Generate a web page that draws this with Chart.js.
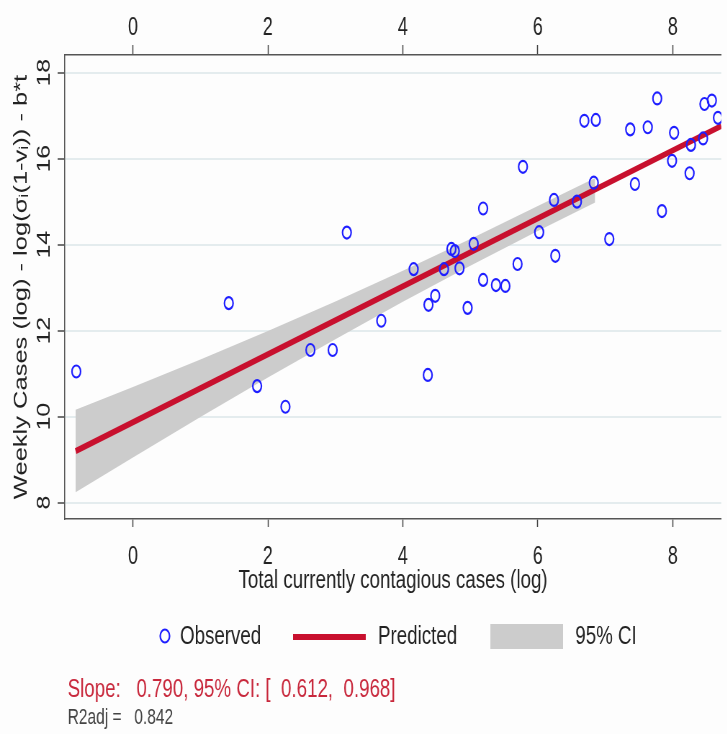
<!DOCTYPE html>
<html>
<head>
<meta charset="utf-8">
<script src="https://cdn.jsdelivr.net/npm/chart.js@4.4.1/dist/chart.umd.min.js"></script>
<style>
html, body { margin: 0; padding: 0; background: #fdfdfd; overflow: hidden; }
/* the original picture is squeezed sideways, so the chart is drawn wide and scaled */
#wrap { width: 1010px; height: 734px; transform: scaleX(0.72); transform-origin: 0 0; }
</style>
</head>
<body>
<div id="wrap"><canvas id="RegChart" width="1010" height="734"></canvas></div>
<script>
// observed points
let xObs = [-0.84, 1.42, 1.84, 2.26, 2.63, 2.96, 3.17, 3.68, 4.37, 4.16, 4.38, 4.48, 4.61, 4.72, 4.77,
  4.84, 4.96, 5.05, 5.19, 5.19, 5.38, 5.52, 5.70, 5.78, 6.02, 6.24, 6.26, 6.58, 6.83, 7.06,
  6.69, 6.86, 7.37, 7.77, 7.63, 7.44, 7.84, 8.02, 7.99, 8.25, 8.27, 8.45, 8.47, 8.58, 8.67]
let yObs = [11.05, 12.64, 10.71, 10.23, 11.55, 11.55, 14.28, 12.23, 10.97, 13.43, 12.60, 12.81, 13.43, 13.90, 13.85,
  13.45, 12.53, 14.02, 14.84, 13.18, 13.06, 13.04, 13.55, 15.81, 14.29, 15.04, 13.74, 15.00, 15.44, 14.13,
  16.88, 16.90, 16.68, 17.40, 16.73, 15.41, 14.78, 16.60, 15.95, 15.66, 16.32, 16.47, 17.27, 17.35, 16.95]

// fitted line
let xPred = [-0.85, 8.72]
let yPred = [9.20, 16.76]

// 95% confidence band
let xCI = [-0.85, 0, 1, 2, 3, 4, 5, 6, 6.85]
let ciLow = [8.24, 9.05, 9.99, 10.91, 11.80, 12.67, 13.51, 14.32, 14.98]
let ciHigh = [10.16, 10.69, 11.33, 11.99, 12.68, 13.39, 14.13, 14.90, 15.55]

let slope = "0.790"
let slopeCI = ["0.612", "0.968"]
let r2adj = "0.842"

let xTitle = "Total currently contagious cases (log)"
let yTitle = "Weekly Cases (log) - log(σᵢ(1-vᵢ)) - b*t"

const FONT = "'Liberation Sans', Arial, sans-serif"
const BLUE = "#1e1eff"
const RED = "#c8102e"
const GREY = "#cccccc"

const toPts = (xs, ys) => xs.map((x, i) => ({ x: x, y: ys[i] }))

const extras = {
  id: "extras",
  afterDraw(chart) {
    const c = chart.ctx
    const yScale = chart.scales.y
    c.save()
    // rotated y tick labels
    c.fillStyle = "#222"
    c.font = "25px " + FONT
    c.textAlign = "center"
    c.textBaseline = "middle"
    yScale.ticks.forEach(t => {
      const py = yScale.getPixelForValue(t.value)
      c.save()
      c.translate(62, py)
      c.rotate(-Math.PI / 2)
      c.fillText(t.label, 0, 0)
      c.restore()
    })

    // legend
    const ly = 637
    c.textAlign = "left"
    c.font = "26px " + FONT
    c.strokeStyle = BLUE
    c.lineWidth = 2.2
    c.beginPath()
    c.arc(229, ly - 1, 6.5, 0, Math.PI * 2)
    c.stroke()
    c.fillText("Observed", 250, ly)

    c.strokeStyle = RED
    c.lineWidth = 6
    c.beginPath()
    c.moveTo(407, ly)
    c.lineTo(508, ly)
    c.stroke()
    c.fillText("Predicted", 525, ly)

    c.fillStyle = GREY
    c.fillRect(681, ly - 13, 101, 25)
    c.fillStyle = "#222"
    c.fillText("95% CI", 799, ly)

    // fit notes
    c.fillStyle = "#c8283c"
    c.font = "26px " + FONT
    c.fillText("Slope:   " + slope + ", 95% CI: [  " + slopeCI[0] + ",  " + slopeCI[1] + "]", 94, 690)
    c.fillStyle = "#444"
    c.font = "21.5px " + FONT
    c.fillText("R2adj =   " + r2adj, 94, 718)
    c.restore()
  }
}

const tickFont = { family: FONT, size: 25 }

const myChart = new Chart(document.getElementById("RegChart").getContext("2d"), {
  type: "scatter",
  data: {
    datasets: [
      {
        label: "Observed",
        data: toPts(xObs, yObs),
        pointRadius: 6,
        pointHoverRadius: 6,
        borderWidth: 2.2,
        borderColor: BLUE,
        backgroundColor: "rgba(0,0,0,0)",
        order: 0
      },
      {
        label: "Predicted",
        data: toPts(xPred, yPred),
        showLine: true,
        pointRadius: 0,
        borderColor: RED,
        borderWidth: 6,
        order: 1
      },
      {
        label: "CI low",
        data: toPts(xCI, ciLow),
        showLine: true,
        pointRadius: 0,
        borderWidth: 0,
        borderColor: "rgba(0,0,0,0)",
        fill: false,
        order: 3
      },
      {
        label: "95% CI",
        data: toPts(xCI, ciHigh),
        showLine: true,
        pointRadius: 0,
        borderWidth: 0,
        borderColor: "rgba(0,0,0,0)",
        backgroundColor: GREY,
        fill: "-1",
        order: 2
      }
    ]
  },
  options: {
    responsive: false,
    animation: false,
    layout: { padding: { left: 0, right: 0, top: 0, bottom: 135 } },
    plugins: { legend: { display: false }, tooltip: { enabled: false } },
    scales: {
      x: {
        type: "linear",
        position: "bottom",
        min: -1.01,
        max: 8.72,
        ticks: { stepSize: 2, includeBounds: false, color: "#222", font: tickFont, padding: 15 },
        grid: { drawOnChartArea: false, tickColor: "#444", tickLength: 8, tickWidth: 1.5 },
        border: { color: "#555", width: 1.5 },
        title: { display: true, text: xTitle, color: "#222", font: { family: FONT, size: 26 }, padding: { top: 0, bottom: 3 } },
        afterFit: s => { s.height = 80 }
      },
      x2: {
        type: "linear",
        position: "top",
        min: -1.01,
        max: 8.72,
        ticks: { stepSize: 2, includeBounds: false, color: "#222", font: tickFont, padding: 2 },
        grid: { drawOnChartArea: false, tickColor: "#444", tickLength: 10, tickWidth: 1.5 },
        border: { color: "#555", width: 1.5 },
        afterFit: s => { s.height = 55 }
      },
      y: {
        type: "linear",
        min: 7.62,
        max: 18.41,
        ticks: { stepSize: 2, includeBounds: false, display: false },
        grid: { color: "#e4ecee", lineWidth: 2, tickColor: "#444", tickLength: 10, tickWidth: 1.5 },
        border: { color: "#555", width: 1.5 },
        title: { display: true, text: yTitle, color: "#222", font: { family: FONT, size: 25.5 }, padding: { top: 15, bottom: 0 } },
        afterFit: s => { s.width = 90 }
      }
    }
  },
  plugins: [extras]
})
</script>
</body>
</html>
